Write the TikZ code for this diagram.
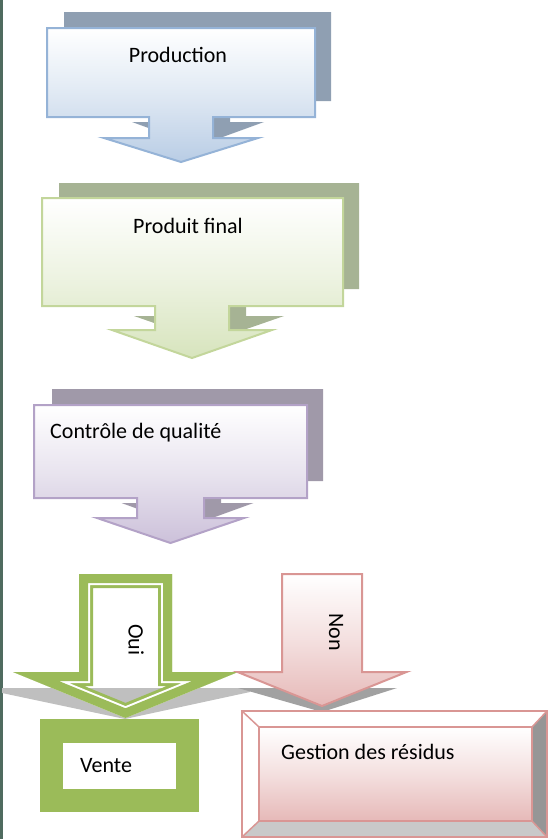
\documentclass[tikz,border=0pt]{standalone}
\usepackage{fontspec}
\setmainfont{Carlito}
\usepackage{tikz}
\usetikzlibrary{calc}

\definecolor{prodline}{RGB}{149,179,215}
\definecolor{prodfill}{RGB}{185,205,229}
\definecolor{prodshadow}{RGB}{143,159,178}
\definecolor{finline}{RGB}{195,214,155}
\definecolor{finfill}{RGB}{215,228,189}
\definecolor{finshadow}{RGB}{166,179,148}
\definecolor{ctrlline}{RGB}{179,162,199}
\definecolor{ctrlfill}{RGB}{204,193,218}
\definecolor{ctrlshadow}{RGB}{160,153,169}
\definecolor{ouigreen}{RGB}{155,187,89}
\definecolor{nonline}{RGB}{217,150,148}
\definecolor{nonfill}{RGB}{230,185,184}
\definecolor{pageedge}{RGB}{79,107,95}

% box with a down arrow: x1,y1,x2,y2, centre, stem half, head half, stem end, tip
\newcommand{\downcallout}[9]{(#1,#2) -- (#3,#2) -- (#3,#4) -- ({#5+#6},#4)
  -- ({#5+#6},#8) -- ({#5+#7},#8) -- (#5,#9) -- ({#5-#7},#8)
  -- ({#5-#6},#8) -- ({#5-#6},#4) -- (#1,#4) -- cycle}
% plain down arrow: centre, stem half, head half, top, stem end, tip
\newcommand{\downarrowpath}[6]{({#1-#2},#4) -- ({#1+#2},#4) -- ({#1+#2},#5)
  -- ({#1+#3},#5) -- (#1,#6) -- ({#1-#3},#5) -- ({#1-#2},#5) -- cycle}

\begin{document}
\begin{tikzpicture}[
  x=1pt, y=-1pt,
  lbl/.style={font=\fontsize{22}{26}\selectfont, inner sep=0pt},
  callout/.style={line width=2pt, top color=white, bottom color=#1,
                  middle color=#1!45!white}
]
\useasboundingbox (0,0) rectangle (548,839);

%% --- Page edge -----------------------------------------------
\fill[pageedge] (0,0) rectangle (2.5,839);

%% --- Shadows (drawn first) -----------------------------------
\fill[prodshadow] \downcallout{64}{12}{331}{101}{198}{32}{66}{122}{146};
\fill[finshadow]  \downcallout{59}{183}{359}{289}{209}{37}{75}{316}{342};
\fill[ctrlshadow] \downcallout{52}{389}{323}{481}{187.5}{33.5}{66}{503}{527};

%% --- Callouts -------------------------------------------------
\path[callout=prodfill, draw=prodline]
  \downcallout{47}{28}{315}{117}{181}{32}{77}{138}{162};
\path[callout=finfill, draw=finline]
  \downcallout{42}{198}{343}{306}{192}{37}{80}{330}{358};
\path[callout=ctrlfill, draw=ctrlline]
  \downcallout{34}{405}{307}{498}{170.5}{33.5}{73.5}{518}{543};

\node[lbl, anchor=base] (prod) at (178,62) {Production};
\node[lbl, anchor=base] (final) at (188,233) {Produit final};
\node[lbl, anchor=base west] (ctrl) at (50,438) {Contrôle de qualité};

%% --- Flat shadows under the two branches ---------------------
\fill[black!25] (2,688) -- (250,688) -- (250,692) -- (125,719)
                -- (2,693) -- cycle;
\fill[black!37] (238,688) -- (397,688) -- (322,712) -- cycle;

%% --- Oui branch (double outline) -----------------------------
\begin{scope}
  \clip \downarrowpath{125.5}{46.5}{112.5}{574}{672}{718};
  \draw[ouigreen, line width=28pt]
    \downarrowpath{125.5}{46.5}{112.5}{574}{672}{718};
  \draw[white, line width=22pt]
    \downarrowpath{125.5}{46.5}{112.5}{574}{672}{718};
  \draw[ouigreen, line width=18pt]
    \downarrowpath{125.5}{46.5}{112.5}{574}{672}{718};
\end{scope}
\node[lbl, rotate=-90] (oui) at (136,640) {Oui};

%% --- Non branch ----------------------------------------------
\path[callout=nonfill, draw=nonline]
  \downarrowpath{322}{40}{84.5}{574}{672}{706};
\node[lbl, rotate=-90] (non) at (336,632) {Non};

%% --- Vente ---------------------------------------------------
\fill[ouigreen] (40,719) rectangle (199,812);
\fill[white] (63,743) rectangle (176,789);
\node[lbl, anchor=base west] (vente) at (80,772) {Vente};

%% --- Gestion des résidus (bevel) -----------------------------
\fill[white]    (242,711) -- (547,711) -- (532,727) -- (259,727) -- cycle;
\fill[white]    (242,711) -- (259,727) -- (259,821) -- (242,837) -- cycle;
\fill[black!41] (547,711) -- (547,837) -- (532,821) -- (532,727) -- cycle;
\fill[black!21] (242,837) -- (547,837) -- (532,821) -- (259,821) -- cycle;
\shade[top color=white, bottom color=nonfill, middle color=nonfill!45!white]
  (259,727) rectangle (532,821);
\draw[nonline, line width=1.8pt] (242,711) rectangle (547,837);
\draw[nonline, line width=1.8pt] (259,727) rectangle (532,821);
\foreach \a/\b in {242/259, 547/532}{
  \draw[nonline, line width=1.5pt] (\a,711) -- (\b,727);
  \draw[nonline, line width=1.5pt] (\a,837) -- (\b,821);
}
\node[lbl, anchor=base west] (gestion) at (281,759) {Gestion des résidus};

\end{tikzpicture}
\end{document}
